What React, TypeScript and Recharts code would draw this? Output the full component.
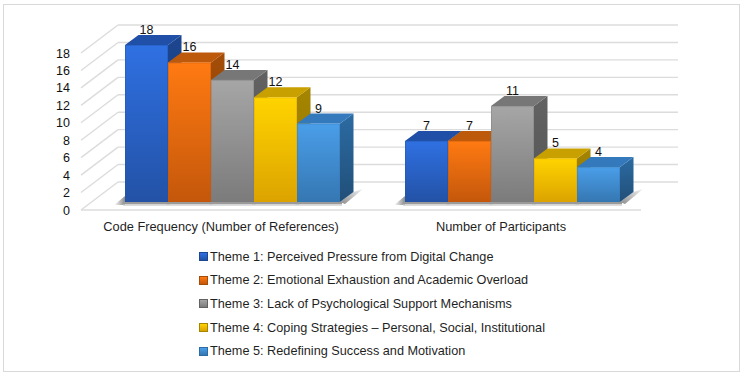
import { BarChart, Bar, XAxis, YAxis, CartesianGrid, LabelList } from 'recharts';

const categories = ['Code Frequency (Number of References)', 'Number of Participants'];
const themes = [
  'Theme 1: Perceived Pressure from Digital Change',
  'Theme 2: Emotional Exhaustion and Academic Overload',
  'Theme 3: Lack of Psychological Support Mechanisms',
  'Theme 4: Coping Strategies – Personal, Social, Institutional',
  'Theme 5: Redefining Success and Motivation',
];
const theme1 = [18, 7];
const theme2 = [16, 7];
const theme3 = [14, 11];
const theme4 = [12, 5];
const theme5 = [9, 4];
const yTicks = [0, 2, 4, 6, 8, 10, 12, 14, 16, 18];

const seriesValues = [theme1, theme2, theme3, theme4, theme5];
const palette = [
  { light: '#2f70e2', dark: '#2352a6', top: '#1f4fa6', side: '#1d4690', sideDark: '#173a78' },
  { light: '#ff7a12', dark: '#c4570b', top: '#bd590b', side: '#a34d08', sideDark: '#8a4106' },
  { light: '#a6a6a6', dark: '#7b7b7b', top: '#777777', side: '#626262', sideDark: '#555555' },
  { light: '#ffd400', dark: '#dca300', top: '#c8a100', side: '#a58500', sideDark: '#917400' },
  { light: '#4a9ee9', dark: '#3577b2', top: '#3479bc', side: '#2c6ba3', sideDark: '#214f78' },
];

const data = categories.map((name, i) => {
  const row: Record<string, string | number> = { name };
  seriesValues.forEach((values, s) => {
    row['s' + s] = values[i];
  });
  return row;
});

const FONT = 'Arial, "Liberation Sans", sans-serif';
const DEPTH_X = 13.5;
const DEPTH_Y = 10;

function makeBar3D(s: number) {
  const c = palette[s];
  return function Bar3D(props: any) {
    const { x, y, width, height } = props;
    const r = x + width;
    const b = y + height;
    return (
      <g>
        {s === 0 && (
          <polygon points={`${x - 11},${b + 3} ${x},${b - 6} ${x},${b + 3}`} fill="url(#shadowLeft)" />
        )}
        <rect x={x - 2} y={b} width={width + 4} height={2.5} fill="#9a9a9a" />
        <rect x={x - 2} y={b + 2.5} width={width + 4} height={1.5} fill="#dcdcdc" />
        {s === 4 && (
          <polygon
            points={`${r},${b} ${r + DEPTH_X},${b - DEPTH_Y} ${r + 23},${b - 13} ${r + 5},${b + 2}`}
            fill="url(#shadowRight)"
          />
        )}
        <polygon
          points={`${r},${y} ${r + DEPTH_X},${y - DEPTH_Y} ${r + DEPTH_X},${b - DEPTH_Y} ${r},${b}`}
          fill={`url(#side${s})`}
        />
        <polygon
          points={`${x},${y} ${x + DEPTH_X},${y - DEPTH_Y} ${r + DEPTH_X},${y - DEPTH_Y} ${r},${y}`}
          fill={c.top}
        />
        <rect x={x} y={y} width={width} height={height} fill={`url(#front${s})`} />
        <rect x={x + 0.5} y={y + 0.5} width={width - 1} height={height - 1} fill="none" stroke={c.dark} strokeOpacity={0.4} />
      </g>
    );
  };
}

// back wall, slanted side wall and floor edge for each y tick
function wallLine(props: any) {
  const y = props.y1;
  const front = y + 8;
  const back = y - 20;
  const isFloor = Math.round(y) === Math.round(props.y + props.height);
  return (
    <g key={props.index}>
      <line x1={81} y1={front} x2={118} y2={back} stroke="#dcdcdc" strokeWidth={1.4} />
      <line x1={118} y1={back} x2={678} y2={back} stroke="#dcdcdc" strokeWidth={1.4} />
      {isFloor && <line x1={81} y1={front} x2={641} y2={front} stroke="#dcdcdc" strokeWidth={1.4} />}
    </g>
  );
}

function ValueTick(props: any) {
  const { y, payload } = props;
  return (
    <text x={70} y={y + 12.5} textAnchor="end" fontSize={12.5} fontFamily={FONT} fill="#111111">
      {payload.value}
    </text>
  );
}

function CategoryTick(props: any) {
  const { x, y, payload } = props;
  return (
    <text x={x - 11.5} y={y + 21} textAnchor="middle" fontSize={12.8} fontFamily={FONT} fill="#1f1f1f">
      {payload.value}
    </text>
  );
}

export default function App() {
  return (
    <div style={{ position: 'relative', width: 743, height: 375, background: '#fff', overflow: 'hidden' }}>
      <style>{'body{margin:0}'}</style>
      <div
        style={{
          position: 'absolute',
          left: 3,
          top: 4,
          width: 735,
          height: 366,
          border: '1.5px solid #d9d9d9',
        }}
      />
      <BarChart
        width={743}
        height={375}
        data={data}
        margin={{ top: 45, right: 90.5, bottom: 143, left: 0 }}
        barCategoryGap={32.5}
        barGap={0}
        style={{ position: 'absolute', left: 0, top: 0 }}
      >
        <defs>
          {palette.map((c, s) => (
            <linearGradient key={s} id={`front${s}`} x1="0" y1="0" x2="0" y2="1">
              <stop offset="0%" stopColor={c.light} />
              <stop offset="100%" stopColor={c.dark} />
            </linearGradient>
          ))}
          {palette.map((c, s) => (
            <linearGradient key={s} id={`side${s}`} x1="0" y1="0" x2="0" y2="1">
              <stop offset="0%" stopColor={c.side} />
              <stop offset="100%" stopColor={c.sideDark} />
            </linearGradient>
          ))}
          <linearGradient id="shadowLeft" x1="0" y1="0" x2="1" y2="0">
            <stop offset="0%" stopColor="#ffffff" />
            <stop offset="100%" stopColor="#8c8c8c" />
          </linearGradient>
          <linearGradient id="shadowRight" x1="0" y1="1" x2="1" y2="0">
            <stop offset="0%" stopColor="#8c8c8c" />
            <stop offset="100%" stopColor="#f2f2f2" />
          </linearGradient>
        </defs>
        <CartesianGrid vertical={false} horizontal={wallLine} syncWithTicks />
        <YAxis
          width={92.5}
          domain={[0, 18]}
          ticks={yTicks}
          interval={0}
          axisLine={false}
          tickLine={false}
          tick={<ValueTick />}
        />
        <XAxis dataKey="name" height={30} axisLine={false} tickLine={false} interval={0} tick={<CategoryTick />} />
        {seriesValues.map((_, s) => (
          <Bar key={s} dataKey={'s' + s} isAnimationActive={false} shape={makeBar3D(s)}>
            <LabelList
              dataKey={'s' + s}
              position="top"
              offset={11}
              style={{ fontSize: 12.5, fontFamily: FONT, fill: '#111111' }}
            />
          </Bar>
        ))}
      </BarChart>
      <div style={{ position: 'absolute', left: 200, top: 245 }}>
        {themes.map((t, s) => (
          <div
            key={t}
            style={{
              display: 'flex',
              alignItems: 'center',
              height: 23.6,
              fontFamily: FONT,
              fontSize: 12.7,
              color: '#1f1f1f',
              whiteSpace: 'nowrap',
            }}
          >
            <span
              style={{
                width: 7,
                height: 7,
                marginRight: 3,
                background: `linear-gradient(${palette[s].light}, ${palette[s].dark})`,
                outline: '0.5px solid ' + palette[s].side,
              }}
            />
            {t}
          </div>
        ))}
      </div>
    </div>
  );
}
